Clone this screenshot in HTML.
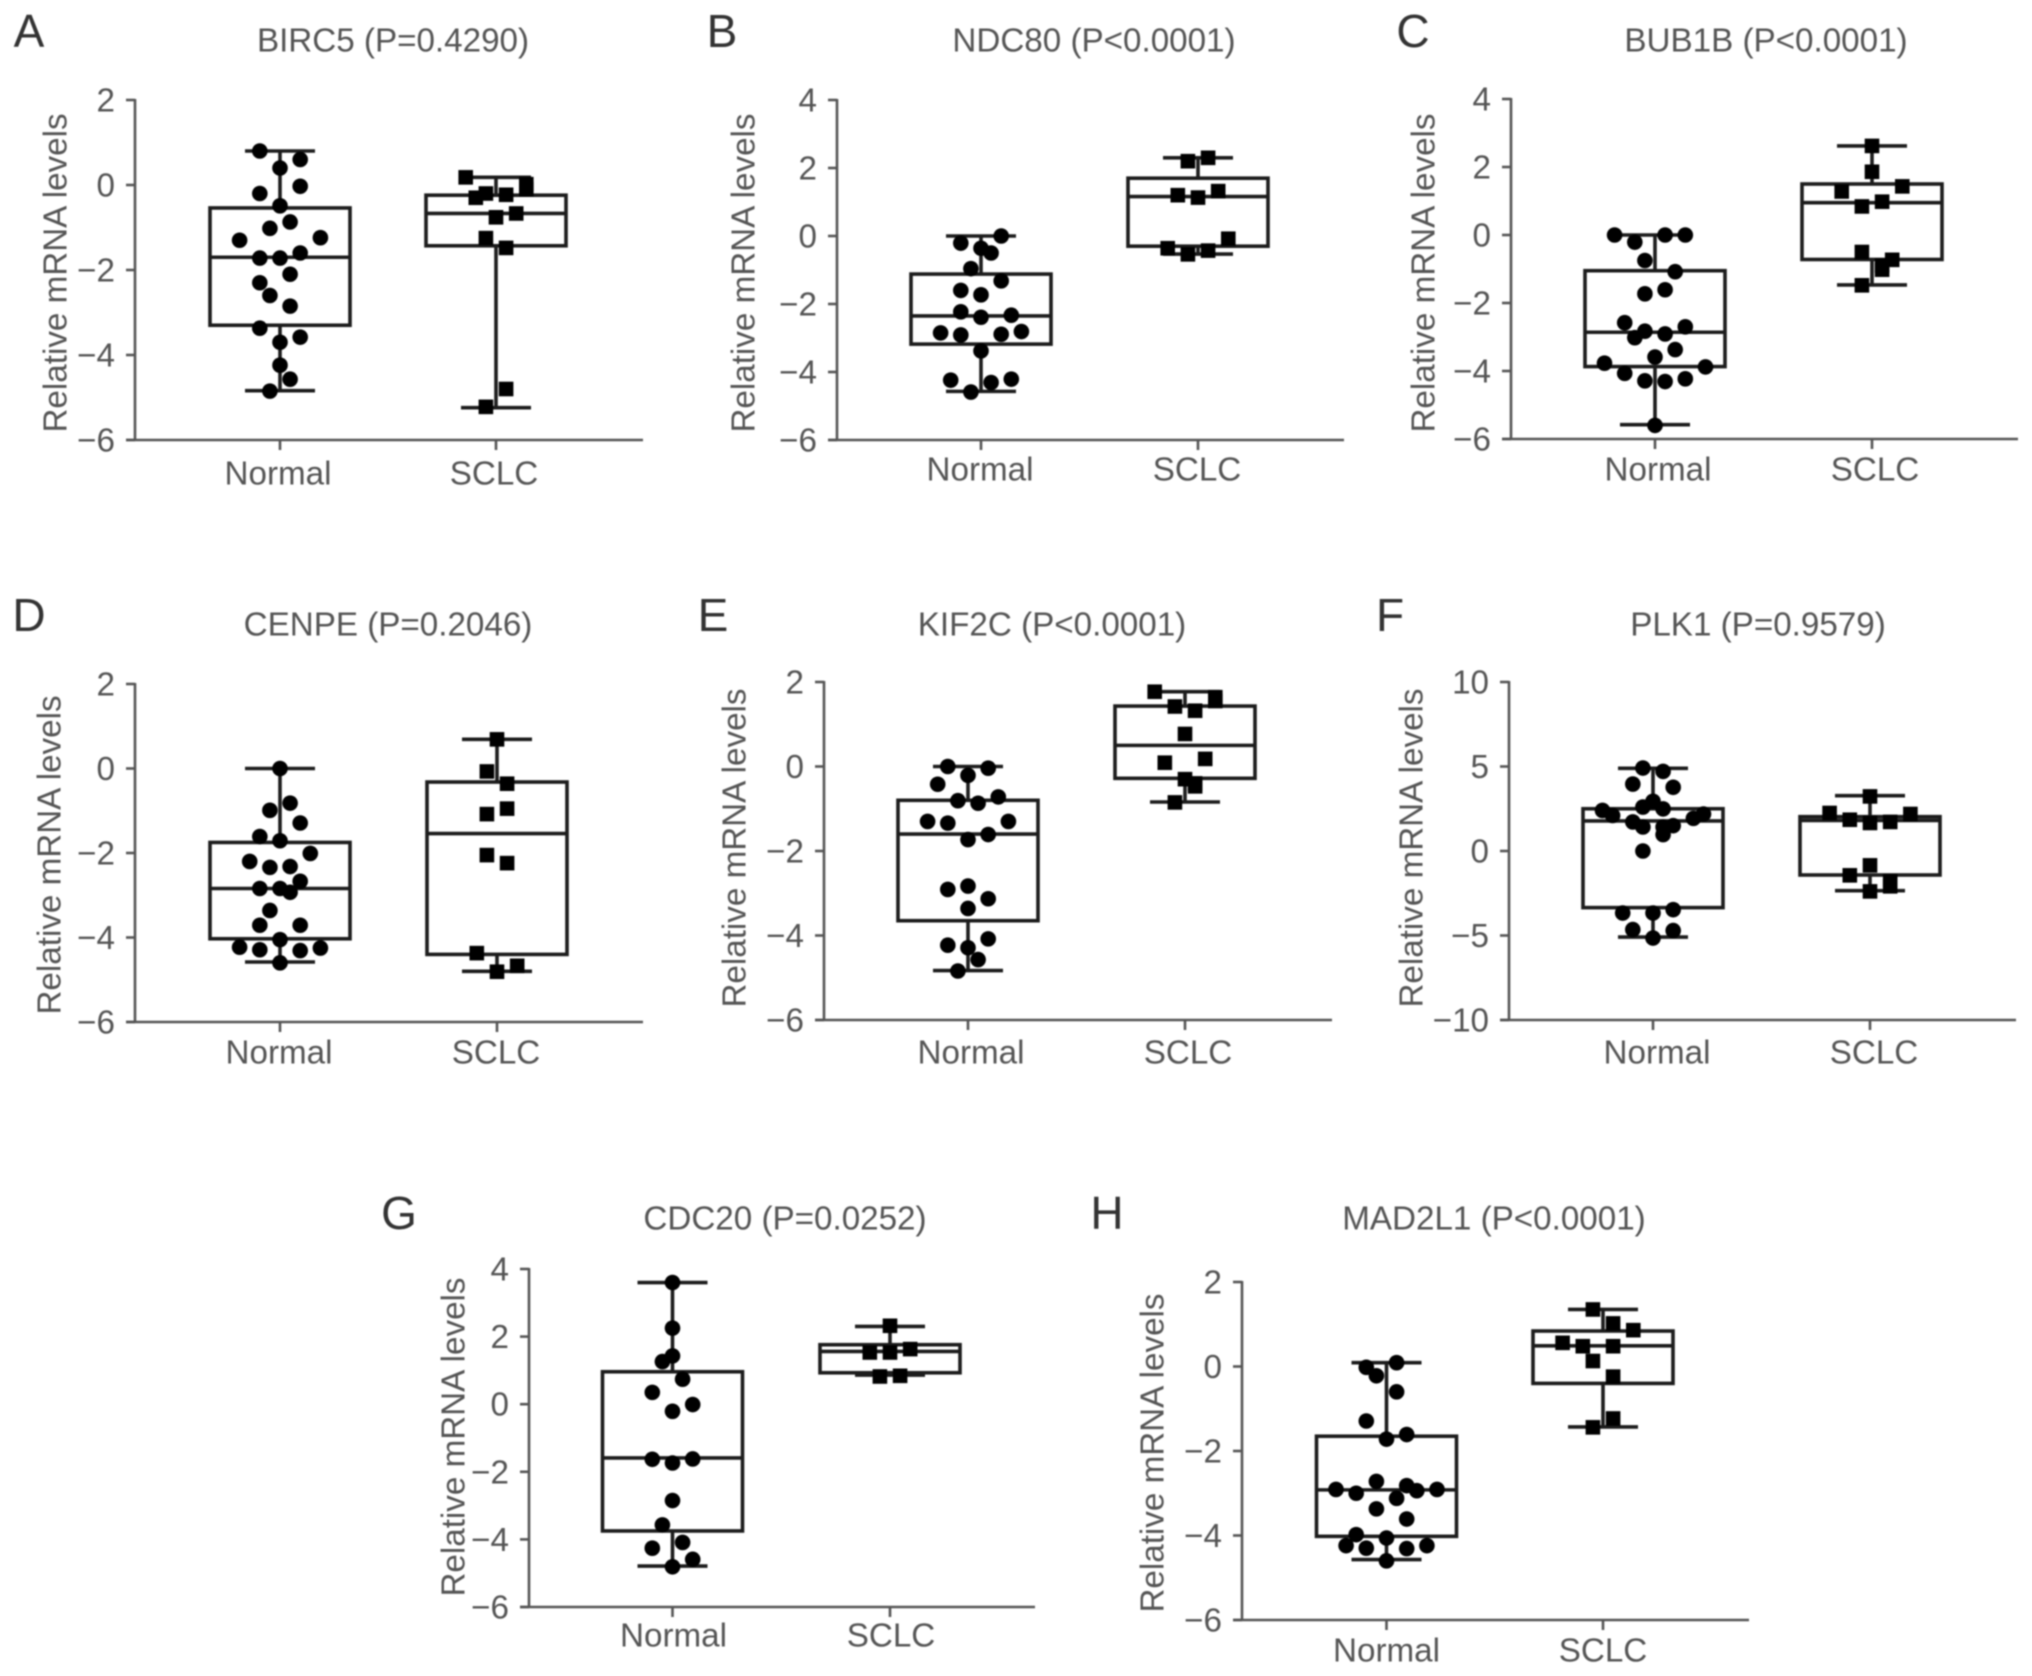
<!DOCTYPE html>
<html lang="en">
<head>
<meta charset="utf-8">
<title>Relative mRNA levels in normal and SCLC samples</title>
<style>
html,body{margin:0;padding:0;background:#fff;}
body{width:2032px;height:1676px;overflow:hidden;}
svg{display:block;filter:blur(0.8px);}
text{font-family:"Liberation Sans",sans-serif;fill:#555;}
</style>
</head>
<body>
<svg id="figure" xmlns="http://www.w3.org/2000/svg" width="2032" height="1676" viewBox="0 0 2032 1676"></svg>
<script>
const categories = ['Normal', 'SCLC'];

// Box arrays are [whisker low, Q1, median, Q3, whisker high]. Slots are swarm columns.
const aTitle = 'BIRC5 (P=0.4290)';
const aTicks = [2, 0, -2, -4, -6];
const aNormalValues = [0.8,0.6,0.4,-0.03,-0.2,-0.49,-0.87,-1.02,-1.3,-1.24,-1.6,-1.72,-1.72,-2.1,-2.3,-2.6,-2.85,-3.37,-3.58,-3.7,-4.24,-4.57,-4.85];
const aNormalSlots = [-2,2,0,2,-2,0,1,-1,-4,4,2,-2,0,1,-2,-1,1,-2,2,0,0,1,-1];
const aNormalBox = [-4.84,-3.3,-1.7,-0.54,0.8];
const aSclcValues = [0.18,0.02,-0.1,-0.2,-0.3,-0.23,-0.67,-0.76,-1.25,-1.48,-4.8,-5.22];
const aSclcSlots = [-3,3,3,-1,-2,1,2,0,-1,1,1,-1];
const aSclcBox = [-5.24,-1.43,-0.67,-0.24,0.18];

const bTitle = 'NDC80 (P<0.0001)';
const bTicks = [4, 2, 0, -2, -4, -6];
const bNormalValues = [0,-0.21,-0.36,-0.5,-0.96,-1.32,-1.6,-1.73,-2.23,-2.39,-2.33,-2.85,-2.91,-2.89,-2.81,-3.38,-4.24,-4.31,-4.21,-4.59];
const bNormalSlots = [2,-2,0,1,-1,2,-2,0,-2,0,3,-4,-2,2,4,0,-3,1,3,-1];
const bNormalBox = [-4.57,-3.18,-2.35,-1.12,0];
const bSclcValues = [2.3,2.2,1.32,1.2,1.13,-0.08,-0.36,-0.43,-0.54];
const bSclcSlots = [1,-1,2,-2,0,3,-3,1,-1];
const bSclcBox = [-0.53,-0.3,1.16,1.7,2.3];

const cTitle = 'BUB1B (P<0.0001)';
const cTicks = [4, 2, 0, -2, -4, -6];
const cNormalValues = [0,0,0,-0.21,-0.75,-1.08,-1.61,-1.73,-2.58,-2.7,-2.83,-2.91,-3.02,-3.37,-3.59,-3.77,-3.88,-4.07,-4.29,-4.31,-4.23,-5.6];
const cNormalSlots = [-4,3,1,-2,-1,2,1,-1,-3,3,-1,1,-2,2,0,-5,5,-3,-1,1,3,0];
const cNormalBox = [-5.58,-3.87,-2.86,-1.05,0];
const cSclcValues = [2.62,1.86,1.43,1.28,0.98,0.84,-0.5,-0.73,-0.9,-1.02,-1.48];
const cSclcSlots = [0,0,3,-3,1,-1,-1,2,1,1,-1];
const cSclcBox = [-1.47,-0.72,0.95,1.5,2.62];

const dTitle = 'CENPE (P=0.2046)';
const dTicks = [2, 0, -2, -4, -6];
const dNormalValues = [0,-0.82,-0.99,-1.29,-1.61,-1.71,-2.01,-2.2,-2.34,-2.32,-2.67,-2.84,-2.84,-2.93,-3.36,-3.71,-3.71,-4.05,-4.23,-4.25,-4.29,-4.31,-4.6];
const dNormalSlots = [0,1,-1,2,-2,0,3,-3,-1,1,2,-2,0,1,-1,-2,2,0,-4,4,-2,2,0];
const dNormalBox = [-4.58,-4.03,-2.84,-1.75,0];
const dSclcValues = [0.69,-0.07,-0.36,-0.95,-1.08,-2.05,-2.24,-4.37,-4.67,-4.81];
const dSclcSlots = [0,-1,1,1,-1,-1,1,-2,2,0];
const dSclcBox = [-4.8,-4.4,-1.54,-0.32,0.69];

const eTitle = 'KIF2C (P<0.0001)';
const eTicks = [2, 0, -2, -4, -6];
const eNormalValues = [0,-0.04,-0.21,-0.42,-0.72,-0.81,-0.87,-1.3,-1.34,-1.3,-1.61,-1.73,-2.83,-2.91,-3.13,-3.36,-4.08,-4.23,-4.29,-4.57,-4.84];
const eNormalSlots = [-2,2,0,-3,3,-1,1,-4,-2,4,2,0,0,-2,2,0,2,-2,0,1,-1];
const eNormalBox = [-4.83,-3.65,-1.6,-0.8,0];
const eSclcValues = [1.77,1.64,1.55,1.42,1.32,0.77,0.18,0.09,-0.3,-0.47,-0.4,-0.85];
const eSclcSlots = [-3,3,3,-1,1,0,2,-2,0,1,1,-1];
const eSclcBox = [-0.84,-0.28,0.5,1.43,1.77];

const fTitle = 'PLK1 (P=0.9579)';
const fTicks = [10, 5, 0, -5, -10];
const fNormalValues = [4.91,4.71,3.96,3.77,2.94,2.6,2.49,2.4,2.1,2.19,1.93,1.72,1.42,1.42,1.5,0.97,0,-3.67,-3.67,-3.47,-4.65,-4.71,-5.15];
const fNormalSlots = [-1,1,-2,2,0,-1,1,-5,-4,5,4,-2,-1,1,2,1,-1,-3,0,2,-2,2,0];
const fNormalBox = [-5.09,-3.35,1.78,2.5,4.89];
const fSclcValues = [3.23,2.25,2.19,1.85,1.72,1.66,-0.85,-1.44,-1.79,-2.09,-2.39];
const fSclcSlots = [0,-4,4,-2,2,0,0,-2,2,2,0];
const fSclcBox = [-2.35,-1.42,1.81,2.03,3.27];

const gTitle = 'CDC20 (P=0.0252)';
const gTicks = [4, 2, 0, -2, -4, -6];
const gNormalValues = [3.6,2.25,1.43,1.26,0.74,0.35,-0.01,-0.21,-1.63,-1.74,-1.62,-2.85,-3.57,-4.09,-4.26,-4.59,-4.81];
const gNormalSlots = [0,0,0,-1,1,-2,2,0,-2,0,2,0,-1,1,-2,2,0];
const gNormalBox = [-4.79,-3.75,-1.59,0.96,3.6];
const gSclcValues = [2.32,1.63,1.53,1.53,0.82,0.84];
const gSclcSlots = [0,2,0,-2,-1,1];
const gSclcBox = [0.86,0.93,1.56,1.76,2.3];

const hTitle = 'MAD2L1 (P<0.0001)';
const hTicks = [2, 0, -2, -4, -6];
const hNormalValues = [0.09,-0.02,-0.22,-0.6,-1.29,-1.61,-1.72,-2.72,-2.82,-2.91,-3,-2.94,-2.91,-3.12,-3.37,-3.61,-3.98,-4.06,-4.24,-4.24,-4.3,-4.31,-4.6];
const hNormalSlots = [1,-2,-1,1,-2,2,0,-1,2,-5,-3,3,5,1,-1,2,-3,0,-4,4,-2,2,0];
const hNormalBox = [-4.57,-4.02,-2.92,-1.65,0.09];
const hSclcValues = [1.35,1.02,0.86,0.56,0.48,0.48,0.13,-0.24,-1.23,-1.44];
const hSclcSlots = [-1,1,3,-4,-2,1,-1,1,1,-1];
const hSclcBox = [-1.43,-0.4,0.49,0.84,1.35];

const panels = [
  {key:'a', letter:'A', title:aTitle, ticks:aTicks, series:[[aNormalValues,aNormalSlots,aNormalBox],[aSclcValues,aSclcSlots,aSclcBox]],
   x0:135, x1:643, yTop:100, yBot:440, cx:[280,496], titleX:393, titleY:41, letterX:29, letterY:31, labelX:56, labelY:273, catY:474, catDx:-2},
  {key:'b', letter:'B', title:bTitle, ticks:bTicks, series:[[bNormalValues,bNormalSlots,bNormalBox],[bSclcValues,bSclcSlots,bSclcBox]],
   x0:837, x1:1344, yTop:100, yBot:440, cx:[981,1198], titleX:1094, titleY:41, letterX:722, letterY:31, labelX:744, labelY:273, catY:470, catDx:-1},
  {key:'c', letter:'C', title:cTitle, ticks:cTicks, series:[[cNormalValues,cNormalSlots,cNormalBox],[cSclcValues,cSclcSlots,cSclcBox]],
   x0:1511, x1:2018, yTop:99, yBot:439, cx:[1655,1872], titleX:1766, titleY:41, letterX:1413, letterY:31, labelX:1424, labelY:273, catY:470, catDx:3},
  {key:'d', letter:'D', title:dTitle, ticks:dTicks, series:[[dNormalValues,dNormalSlots,dNormalBox],[dSclcValues,dSclcSlots,dSclcBox]],
   x0:135, x1:643, yTop:684, yBot:1022, cx:[280,497], titleX:388, titleY:625, letterX:29, letterY:615, labelX:50, labelY:855, catY:1053, catDx:-1},
  {key:'e', letter:'E', title:eTitle, ticks:eTicks, series:[[eNormalValues,eNormalSlots,eNormalBox],[eSclcValues,eSclcSlots,eSclcBox]],
   x0:824, x1:1332, yTop:682, yBot:1020, cx:[968,1185], titleX:1052, titleY:625, letterX:713, letterY:615, labelX:735, labelY:848, catY:1053, catDx:3},
  {key:'f', letter:'F', title:fTitle, ticks:fTicks, series:[[fNormalValues,fNormalSlots,fNormalBox],[fSclcValues,fSclcSlots,fSclcBox]],
   x0:1509, x1:2016, yTop:682, yBot:1020, cx:[1653,1870], titleX:1758, titleY:625, letterX:1390, letterY:615, labelX:1412, labelY:848, catY:1053, catDx:4},
  {key:'g', letter:'G', title:gTitle, ticks:gTicks, series:[[gNormalValues,gNormalSlots,gNormalBox],[gSclcValues,gSclcSlots,gSclcBox]],
   x0:529, x1:1035, yTop:1269, yBot:1607, cx:[672.5,890], titleX:785, titleY:1219, letterX:399, letterY:1213, labelX:454, labelY:1437, catY:1636, catDx:1},
  {key:'h', letter:'H', title:hTitle, ticks:hTicks, series:[[hNormalValues,hNormalSlots,hNormalBox],[hSclcValues,hSclcSlots,hSclcBox]],
   x0:1242, x1:1749, yTop:1282, yBot:1620, cx:[1386.5,1603], titleX:1494, titleY:1219, letterX:1107, letterY:1213, labelX:1153, labelY:1453, catY:1651, catDx:0}
];

const NS = 'http://www.w3.org/2000/svg';
const SLOT_PX = 10.1;
const BOX_HALF = 70;
const CAP_HALF = 35;
const FONT_PX = 33.2;
const AXIS_COLOR = '#555';
const BOX_COLOR = '#1c1c1c';
const root = document.getElementById('figure');

function mk(tag, attrs, parent) {
  const el = document.createElementNS(NS, tag);
  for (const k in attrs) el.setAttribute(k, attrs[k]);
  parent.appendChild(el);
  return el;
}
function seg(parent, x1, y1, x2, y2, color, width) {
  return mk('line', {x1:x1, y1:y1, x2:x2, y2:y2, stroke:color, 'stroke-width':width}, parent);
}
function label(parent, x, y, str, size, anchor, transform) {
  const attrs = {x:x, y:y, 'font-size':size, 'text-anchor':anchor, 'dominant-baseline':'central'};
  if (transform) attrs.transform = transform;
  const el = mk('text', attrs, parent);
  el.textContent = str;
  return el;
}
function fmtTick(v) {
  return v < 0 ? '\u2212' + Math.abs(v) : String(v);
}

panels.forEach(function (p) {
  const maxV = Math.max.apply(null, p.ticks);
  const minV = Math.min.apply(null, p.ticks);
  const yScale = function (v) { return p.yBot - (v - minV) / (maxV - minV) * (p.yBot - p.yTop); };
  const xScale = function (catIdx, slot) { return p.cx[catIdx] + slot * SLOT_PX; };

  const g = mk('g', {}, root);
  
  

  const letterEl = label(g, p.letterX, p.letterY, p.letter, 46, 'middle');
  
  
  letterEl.style.fill = '#333';

  const titleEl = label(g, p.titleX, p.titleY, p.title, FONT_PX, 'middle');
  
  

  const yTitle = label(g, p.labelX, p.labelY, 'Relative mRNA levels', FONT_PX, 'middle', 'rotate(-90 ' + p.labelX + ' ' + p.labelY + ')');
  
  

  const yAxis = seg(g, p.x0, p.yTop - 1, p.x0, p.yBot + 1, AXIS_COLOR, 2.6);
  
  

  const xAxis = seg(g, p.x0 - 9, p.yBot, p.x1, p.yBot, AXIS_COLOR, 2.6);
  
  

  p.ticks.forEach(function (t) {
    const tickMark = seg(g, p.x0 - 9, yScale(t), p.x0, yScale(t), AXIS_COLOR, 2.6);
    
    
    const tickText = label(g, p.x0 - 20, yScale(t) + 1, fmtTick(t), FONT_PX, 'end');
    
    
  });

  categories.forEach(function (cat, i) {
    const catKey = cat.toLowerCase();
    const cx = p.cx[i];
    const vals = p.series[i][0];
    const slots = p.series[i][1];
    const box = p.series[i][2];

    const xTick = seg(g, cx, p.yBot, cx, p.yBot + 10, AXIS_COLOR, 2.6);
    
    

    const catText = label(g, cx + p.catDx, p.catY, cat, FONT_PX, 'middle');
    
    

    const whiskerUp = seg(g, cx, yScale(box[3]), cx, yScale(box[4]), BOX_COLOR, 3.6);
    
    

    const whiskerDown = seg(g, cx, yScale(box[1]), cx, yScale(box[0]), BOX_COLOR, 3.6);
    
    

    const capHigh = seg(g, cx - CAP_HALF, yScale(box[4]), cx + CAP_HALF, yScale(box[4]), BOX_COLOR, 3.6);
    
    

    const capLow = seg(g, cx - CAP_HALF, yScale(box[0]), cx + CAP_HALF, yScale(box[0]), BOX_COLOR, 3.6);
    
    

    const rect = mk('rect', {x:cx - BOX_HALF, y:yScale(box[3]), width:BOX_HALF * 2, height:yScale(box[1]) - yScale(box[3]), fill:'none', stroke:BOX_COLOR, 'stroke-width':3.6}, g);
    
    

    const medianLine = seg(g, cx - BOX_HALF, yScale(box[2]), cx + BOX_HALF, yScale(box[2]), BOX_COLOR, 3.6);
    
    

    vals.forEach(function (v, k) {
      const px = xScale(i, slots[k]);
      const py = yScale(v);
      let mark;
      if (i === 0) {
        mark = mk('circle', {cx:px, cy:py, r:7.8, fill:'#000'}, g);
      } else {
        mark = mk('rect', {x:px - 7.3, y:py - 7.3, width:14.6, height:14.6, fill:'#000'}, g);
      }
      
      
    });
  });
});
</script>
</body>
</html>
